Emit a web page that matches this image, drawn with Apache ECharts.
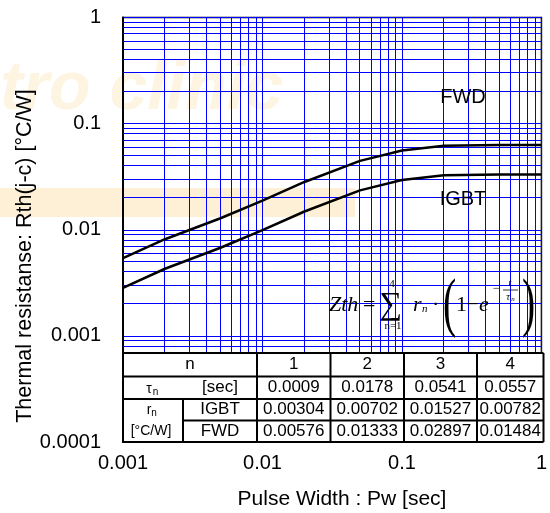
<!DOCTYPE html>
<html>
<head>
<meta charset="utf-8">
<script src="https://cdn.jsdelivr.net/npm/echarts@6/dist/echarts.min.js"></script>
<style>
html,body{margin:0;padding:0;background:#fff;}
#chart{width:550px;height:513px;}
</style>
</head>
<body>
<div id="chart"></div>
<script>
// ---- data ----
const pulseWidth = [0.001, 0.002, 0.005, 0.01, 0.02, 0.05, 0.1, 0.2, 0.5, 1];
const zthIGBT = [0.00284, 0.00429, 0.00677, 0.00992, 0.01486, 0.02348, 0.0294, 0.03255, 0.03315, 0.03315];
const zthFWD  = [0.00539, 0.00814, 0.01284, 0.01882, 0.0282, 0.04454, 0.0558, 0.06175, 0.0629, 0.0629];
const xTickLabels = ['0.001', '0.01', '0.1', '1'];
const yTickLabels = ['0.0001', '0.001', '0.01', '0.1', '1'];
const tableN = ['1', '2', '3', '4'];
const tauN = ['0.0009', '0.0178', '0.0541', '0.0557'];
const rIGBT = ['0.00304', '0.00702', '0.01527', '0.00782'];
const rFWD = ['0.00576', '0.01333', '0.02897', '0.01484'];

// ---- layout ----
const L = 123, R = 543.5, T = 17.5, B = 442;
const XMIN = 0.001, XMAX = 1, YMIN = 0.0001, YMAX = 1;
const chart = echarts.init(document.getElementById('chart'));

function minorValues(lo, hi) {
  const out = [];
  for (let d = lo; d < hi * 0.999; d *= 10) {
    for (let k = 2; k <= 9; k++) out.push(+(k * d).toPrecision(3));
  }
  return out;
}
const blue = '#0000ff';
const xMinor = minorValues(XMIN, XMAX);
const yMinor = minorValues(YMIN, YMAX);

function fmt(v) { return String(Number(Number(v).toPrecision(6))); }

const FONT = 'Liberation Sans, Arial, sans-serif';
const SERIF = 'Liberation Serif, Times New Roman, serif';
const graphics = [];

// watermark (faint)
graphics.push({ type: 'rect', z: -5, shape: { x: 0, y: 188, width: 355, height: 29 }, style: { fill: '#fdf0d6' } });
graphics.push({ type: 'text', z: -5, x: 0, y: 56, style: { text: 'tro clinic', font: 'italic bold 68px ' + FONT, fill: '#fef4e2' } });

// table
const rowsY = [353, 376.5, 399, 420.5, 442];
const colsX = [L, 257, 330.5, 404, 477, R];
const subX = 183;
graphics.push({ type: 'rect', z: 50, shape: { x: L, y: rowsY[0], width: R - L, height: B - rowsY[0] }, style: { fill: '#fff' } });
const lw = 2;
function hline(x1, x2, y) { graphics.push({ type: 'line', z: 60, shape: { x1, y1: y, x2, y2: y }, style: { stroke: '#000', lineWidth: lw } }); }
function vline(x, y1, y2) { graphics.push({ type: 'line', z: 60, shape: { x1: x, y1, x2: x, y2 }, style: { stroke: '#000', lineWidth: lw } }); }
hline(L, R, rowsY[0]); hline(L, R, rowsY[1]); hline(L, R, rowsY[2]); hline(subX, R, rowsY[3]); hline(L, R, rowsY[4]);
colsX.forEach(x => vline(x, rowsY[0], B));
vline(subX, rowsY[2], B);
function txt(s, x, y, size, extra) {
  graphics.push(Object.assign({ type: 'text', z: 70, x, y, style: { text: s, font: (size || 17) + 'px ' + FONT, fill: '#000', textAlign: 'center', textVerticalAlign: 'middle' } }, extra || {}));
}
const rowC = [1, 2, 3, 4].map(i => (rowsY[i - 1] + rowsY[i]) / 2);
const colC = [1, 2, 3, 4].map(i => (colsX[i] + colsX[i + 1]) / 2);
txt('n', (L + colsX[1]) / 2, rowC[0]);
tableN.forEach((s, i) => txt(s, colC[i], rowC[0]));
txt('τ', 149, rowC[1] + 1, 14); txt('n', 155.5, rowC[1] + 4, 10);
txt('[sec]', 220, rowC[1]);
tauN.forEach((s, i) => txt(s, colC[i], rowC[1]));
txt('r', 149, rowC[2], 14); txt('n', 154, rowC[2] + 3, 10);
txt('[°C/W]', 151, rowC[3], 14);
txt('IGBT', 220, rowC[2]); txt('FWD', 220, rowC[3]);
rIGBT.forEach((s, i) => txt(s, colC[i], rowC[2]));
rFWD.forEach((s, i) => txt(s, colC[i], rowC[3]));

// formula
function ftxt(s, x, y, size, italic, align) {
  graphics.push({ type: 'text', z: 70, x, y, style: { text: s, font: (italic ? 'italic ' : '') + size + 'px ' + SERIF, fill: '#000', textAlign: align || 'left', textVerticalAlign: 'middle' } });
}
ftxt('Zth', 329, 305, 22, true);
ftxt('=', 363, 305, 22, false);
ftxt('∑', 391, 306, 32, false, 'center');
ftxt('4', 392, 284, 11, false, 'center');
ftxt('n=1', 393, 326, 11, false, 'center');
ftxt('r', 413, 305, 22, true);
ftxt('n', 422, 309, 11, true);
ftxt('·', 432, 305, 22, false);
graphics.push({ type: 'text', z: 70, x: 443, y: 307, scaleX: 0.6, style: { text: '(', font: '66px ' + SERIF, fill: '#000', textAlign: 'left', textVerticalAlign: 'middle' } });
ftxt('1', 456, 305, 22, false);
ftxt('−', 466, 305, 22, false);
ftxt('e', 479, 305, 22, true);
ftxt('−', 493, 289, 12, false);
ftxt('t', 510, 283, 10, true, 'center');
graphics.push({ type: 'line', z: 70, shape: { x1: 503, y1: 290, x2: 518, y2: 290 }, style: { stroke: '#000', lineWidth: 0.8 } });
ftxt('τ', 508, 297, 10, true, 'center');
ftxt('n', 513, 299, 7, true, 'center');
graphics.push({ type: 'text', z: 70, x: 522, y: 307, scaleX: 0.6, style: { text: ')', font: '66px ' + SERIF, fill: '#000', textAlign: 'left', textVerticalAlign: 'middle' } });

// curve labels
graphics.push({ type: 'text', z: 70, x: 463, y: 97, style: { text: 'FWD', font: '20px ' + FONT, fill: '#000', textAlign: 'center', textVerticalAlign: 'middle' } });
graphics.push({ type: 'text', z: 70, x: 463, y: 199, style: { text: 'IGBT', font: '20px ' + FONT, fill: '#000', textAlign: 'center', textVerticalAlign: 'middle' } });

// axis names
graphics.push({ type: 'text', z: 70, x: 342, y: 499, style: { text: 'Pulse Width : Pw [sec]', font: '21px ' + FONT, fill: '#000', textAlign: 'center', textVerticalAlign: 'middle' } });
graphics.push({ type: 'text', z: 70, x: 25, y: 256, rotation: Math.PI / 2, style: { text: 'Thermal resistanse: Rth(j-c) [°C/W]', font: '21.5px ' + FONT, fill: '#000', textAlign: 'center', textVerticalAlign: 'middle' } });

// minor grid lines: 1px filled rects snapped to whole pixels, positioned through the axes
function gridLineRenderer(vertical) {
  return function (params, api) {
    const p = api.coord([api.value(0), api.value(1)]);
    const lt = api.coord([XMIN, YMAX]);
    const rb = api.coord([XMAX, YMIN]);
    const shape = vertical
      ? { x: Math.floor(p[0]), y: Math.round(lt[1]), width: 1, height: Math.round(rb[1]) - Math.round(lt[1]) }
      : { x: Math.round(lt[0]), y: Math.floor(p[1]), width: Math.round(rb[0]) - Math.round(lt[0]), height: 1 };
    return { type: 'rect', shape, style: { fill: blue, stroke: null }, silent: true };
  };
}

const option = {
  animation: false,
  backgroundColor: '#fff',
  grid: { left: L, right: 550 - R, top: T, bottom: 513 - B, show: true, borderColor: '#000', borderWidth: 1.5, backgroundColor: 'transparent' },
  xAxis: {
    type: 'log', logBase: 10, min: XMIN, max: XMAX,
    axisLine: { show: true, lineStyle: { color: '#000', width: 2 } },
    axisTick: { show: false },
    axisLabel: { color: '#000', fontSize: 20, fontFamily: FONT, margin: 11, formatter: v => { const s = fmt(v); return xTickLabels.includes(s) ? s : ''; } },
    splitLine: { show: true, lineStyle: { color: blue, width: 1 } }
  },
  yAxis: {
    type: 'log', logBase: 10, min: YMIN, max: YMAX,
    axisLine: { show: true, lineStyle: { color: '#000', width: 2 } },
    axisTick: { show: false },
    axisLabel: { color: '#000', fontSize: 20, fontFamily: FONT, margin: 22, formatter: v => { const s = fmt(v); return yTickLabels.includes(s) ? s : ''; } },
    splitLine: { show: true, lineStyle: { color: blue, width: 1 } }
  },
  graphic: { elements: graphics },
  series: [
    { type: 'custom', name: 'xMinorGrid', z: 1, silent: true, renderItem: gridLineRenderer(true), data: xMinor.map(v => [v, YMIN]) },
    { type: 'custom', name: 'yMinorGrid', z: 1, silent: true, renderItem: gridLineRenderer(false), data: yMinor.map(v => [XMIN, v]) },
    { type: 'line', name: 'FWD', z: 5, data: pulseWidth.map((x, i) => [x, zthFWD[i]]), symbol: 'none', lineStyle: { color: '#000', width: 2.5 } },
    { type: 'line', name: 'IGBT', z: 5, data: pulseWidth.map((x, i) => [x, zthIGBT[i]]), symbol: 'none', lineStyle: { color: '#000', width: 2.5 } }
  ]
};
chart.setOption(option);
</script>
</body>
</html>
